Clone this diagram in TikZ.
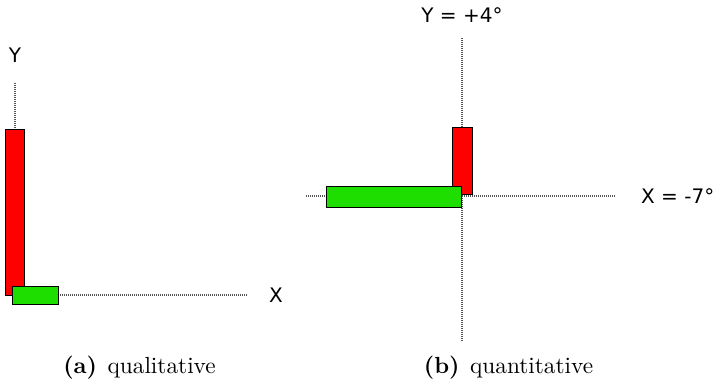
\documentclass[tikz,border=0pt]{standalone}
\usepackage{fontspec}
\newfontfamily\labelfont{DejaVu Sans}
\definecolor{barred}{RGB}{255,0,0}
\definecolor{bargreen}{RGB}{30,222,0}
\definecolor{axisgray}{RGB}{85,85,85}
\tikzset{
  axisline/.style={draw=axisgray, line width=1.2pt, dash pattern=on 1pt off 1pt},
  redbar/.style={draw=black, line width=1pt, fill=barred},
  greenbar/.style={draw=black, line width=1pt, fill=bargreen},
  axislabel/.style={inner sep=0pt, font=\labelfont\fontsize{20}{24}\selectfont},
  captext/.style={inner sep=0pt, anchor=base, scale=2.33, transform shape, font=\fontsize{10}{12}\selectfont}
}
\begin{document}
\begin{tikzpicture}[x=1pt,y=-1pt]
\useasboundingbox (0,0) rectangle (713,384);
% ---- (a) qualitative ----
\node[axislabel] (ya) at (15,55) {Y};
\coordinate (yatop) at (15,83);
\coordinate (yabot) at (15,129);
\draw[axisline] (yatop) -- (yabot);
\coordinate (xaleft) at (58,295);
\node[axislabel] (xa) at (276,295) {X};
\coordinate (xaright) at (247,295);
\draw[axisline] (xaleft) -- (xaright);
\draw[redbar] (5,129) rectangle (24,295);
\draw[greenbar] (12,286) rectangle (58,304);
\node[captext] (capa) at (139.5,373) {\textbf{(a)}\hspace{0.45em}qualitative};
% ---- (b) quantitative ----
\node[axislabel] (yb) at (462,15) {Y = +4°};
\coordinate (ybtop) at (462,38);
\coordinate (ybbot) at (462,342);
\draw[axisline] (ybtop) -- (ybbot);
\node[axislabel, anchor=west] (xb) at (641,196) {X = -7°};
\coordinate (xbleft) at (306,196);
\coordinate (xbright) at (616,196);
\draw[axisline] (xbleft) -- (xbright);
\draw[redbar] (452,127) rectangle (472,194);
\draw[greenbar] (326,186) rectangle (461,207);
\node[captext] (capb) at (508.5,373) {\textbf{(b)}\hspace{0.45em}quantitative};
\end{tikzpicture}
\end{document}
